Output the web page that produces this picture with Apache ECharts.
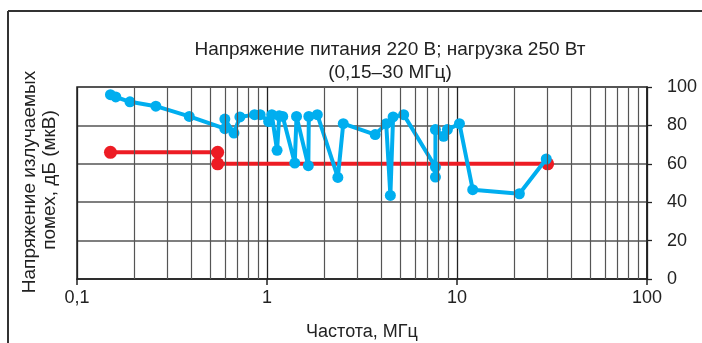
<!DOCTYPE html>
<html><head><meta charset="utf-8">
<script src="https://cdn.jsdelivr.net/npm/echarts@6/dist/echarts.min.js"></script>
<style>html,body{margin:0;padding:0;background:#fff}#c{width:702px;height:343px}</style>
</head><body><div id="c"></div>
<script>
const titleLines = ['Напряжение питания 220 В; нагрузка 250 Вт', '(0,15–30 МГц)'];
const xAxisTitle = 'Частота, МГц';
const yAxisTitleLines = ['Напряжение излучаемых', 'помех, дБ (мкВ)'];
const xMinorGrid = [0.2, 0.3, 0.4, 0.5, 0.6, 0.7, 0.8, 0.9, 2, 3, 4, 5, 6, 7, 8, 9, 20, 30, 40, 50, 60, 70, 80, 90];

// measured emission (blue)
const blueFreq = [0.15, 0.16, 0.19, 0.26, 0.39, 0.6, 0.6, 0.67, 0.72, 0.86, 0.92, 1.02, 1.06, 1.13, 1.16, 1.21, 1.4, 1.43, 1.65, 1.66, 1.84, 2.36, 2.52, 3.71, 4.24, 4.46, 4.61, 5.24, 7.7, 7.7, 7.7, 8.5, 8.9, 10.3, 12.1, 21.3, 29.5];
const blueLevel = [96, 94.8, 92.3, 90, 84.7, 78.3, 83.3, 76, 84.4, 85.6, 85.6, 82, 85.6, 67, 85, 84.7, 60.4, 84.7, 59, 84.7, 85.6, 52.9, 80.9, 75.2, 80.9, 43.5, 84.4, 85.6, 58.3, 53.1, 77.8, 74.3, 77.8, 80.9, 46.5, 44.4, 62.5];

// limit (red), two segments
const limitAFreq = [0.15, 0.55];
const limitALevel = [66, 66];
const limitBFreq = [0.55, 30];
const limitBLevel = [60, 60];

const zip = (a, b) => a.map((v, i) => [v, b[i]]);
const FONT = '"Liberation Sans", Arial, sans-serif';
const TXT = '#222';

const chart = echarts.init(document.getElementById('c'), null, {renderer: 'canvas'});
chart.setOption({
  animation: false,
  textStyle: {fontFamily: FONT},
  title: {
    text: titleLines.join('\n'), left: 385, top: 33, textAlign: 'center',
    textStyle: {fontSize: 19, fontWeight: 'normal', color: TXT, lineHeight: 23, fontFamily: FONT}
  },
  grid: {left: 77, top: 87, right: 55, bottom: 64, show: true, borderColor: '#222', borderWidth: 1.5, outerBoundsMode: 'none'},
  xAxis: {
    type: 'log', logBase: 10, min: 0.1, max: 100,
    name: xAxisTitle, nameLocation: 'middle', nameGap: 44,
    nameTextStyle: {fontSize: 18, color: TXT, fontFamily: FONT},
    axisLine: {show: true, lineStyle: {color: '#222', width: 1.5}},
    axisTick: {show: true, inside: false, length: 6, lineStyle: {color: '#222', width: 1.5}},
    axisLabel: {
      margin: 10, fontSize: 18, color: TXT, fontFamily: FONT, showMinLabel: true, showMaxLabel: true,
      formatter: v => String(Math.round(v * 1000) / 1000).replace('.', ',')
    },
    splitLine: {show: true, lineStyle: {color: '#222', width: 1.3}},
    minorTick: {show: false}, minorSplitLine: {show: false}
  },
  yAxis: {
    type: 'value', position: 'right', min: 0, max: 100, interval: 20,
    axisLine: {show: true, lineStyle: {color: '#222', width: 1.5}},
    axisTick: {show: true, length: 5, lineStyle: {color: '#222', width: 1.3}},
    axisLabel: {margin: 20, fontSize: 18, color: TXT, fontFamily: FONT},
    splitLine: {show: true, lineStyle: {color: '#555', width: 1.5}}
  },
  graphic: [
    {type: 'line', shape: {x1: 8, y1: 11, x2: 702, y2: 11}, style: {stroke: '#333', lineWidth: 2}},
    {type: 'line', shape: {x1: 8, y1: 11, x2: 8, y2: 343}, style: {stroke: '#333', lineWidth: 2}},
    {type: 'text', x: 30, y: 182, rotation: Math.PI / 2,
      style: {text: yAxisTitleLines[0], fontSize: 19, fill: TXT, fontFamily: FONT, align: 'center', verticalAlign: 'middle'}},
    {type: 'text', x: 50, y: 180, rotation: Math.PI / 2,
      style: {text: yAxisTitleLines[1], fontSize: 19, fill: TXT, fontFamily: FONT, align: 'center', verticalAlign: 'middle'}}
  ],
  series: [
    {
      type: 'line', data: [], z: 1, silent: true,
      markLine: {
        silent: true, symbol: 'none', animation: false,
        label: {show: false},
        lineStyle: {color: '#555', width: 1.2, type: 'solid'},
        emphasis: {disabled: true},
        data: xMinorGrid.map(v => ({xAxis: v}))
      }
    },
    {
      type: 'line', data: zip(limitAFreq, limitALevel), z: 3,
      symbol: 'circle', symbolSize: 13,
      itemStyle: {color: '#ed1c24'}, lineStyle: {color: '#ed1c24', width: 4}
    },
    {
      type: 'line', data: zip(limitBFreq, limitBLevel), z: 3,
      symbol: 'circle', symbolSize: 13,
      itemStyle: {color: '#ed1c24'}, lineStyle: {color: '#ed1c24', width: 4}
    },
    {
      type: 'line', data: zip(blueFreq, blueLevel), z: 4,
      symbol: 'circle', symbolSize: 11,
      itemStyle: {color: '#00aeef'}, lineStyle: {color: '#00aeef', width: 4}
    }
  ]
});
</script>
</body></html>
